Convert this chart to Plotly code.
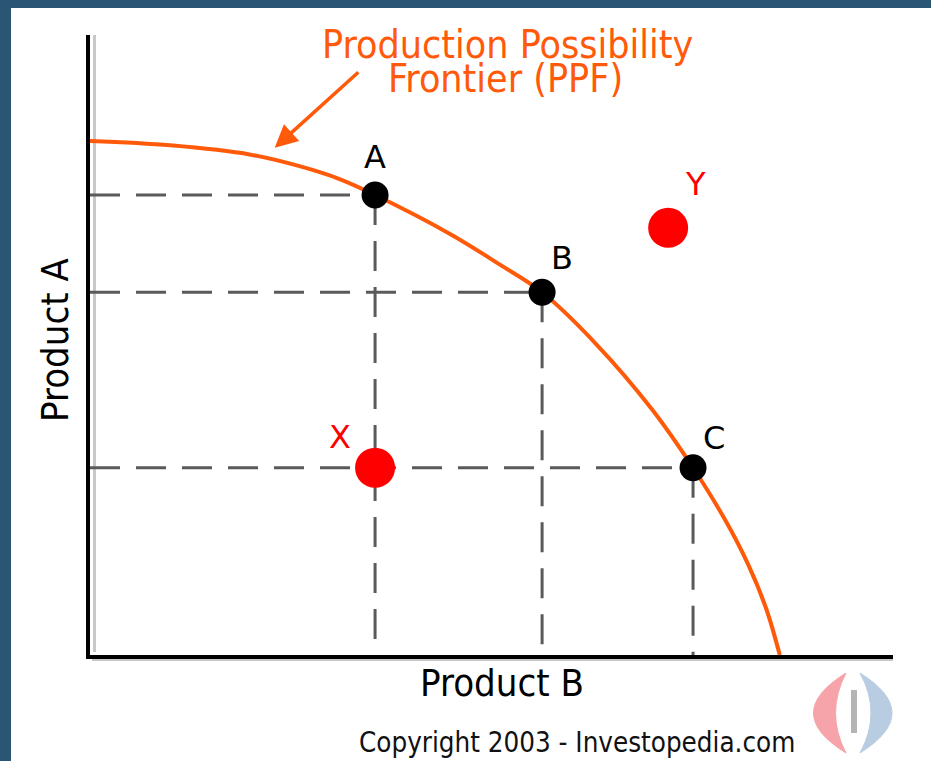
import plotly.graph_objects as go

# --- données (axes sans graduation, échelle 0-10) ---
ppf_x = [0.0, 1.0, 2.0, 2.62, 3.1, 3.55, 4.5, 5.1, 5.63, 6.3, 7.0, 7.51, 7.9, 8.2, 8.42, 8.59]
ppf_y = [8.29, 8.22, 8.07, 7.88, 7.68, 7.42, 6.78, 6.30, 5.85, 5.02, 3.96, 3.02, 2.20, 1.45, 0.75, 0.0]

frontier_names = ["A", "B", "C"]
frontier_x = [3.55, 5.63, 7.51]
frontier_y = [7.42, 5.85, 3.02]

other_names = ["X", "Y"]
other_x = [3.55, 7.20]
other_y = [3.02, 6.89]

ORANGE = "#ff5a0a"
RED = "#ff0000"
DASH = "#5a5a5a"
BG = "#2b5673"
FONT = "DejaVu Sans Condensed, DejaVu Sans, sans-serif"

W, H = 931, 761
L, R, T, B = 90, 38, 35, 106


def px(xp):
    return (xp - L) / (W - L - R)


def py(yp):
    return (H - B - yp) / (H - T - B)


def texte(x, y, txt, size, color="black", angle=0, family=FONT):
    fig.add_annotation(x=px(x), y=py(y), xref="paper", yref="paper", text=txt,
                       showarrow=False, textangle=angle, align="center",
                       xanchor="center", yanchor="middle",
                       font=dict(family=family, size=size, color=color))


fig = go.Figure()

# lignes pointillées vers les axes
for xv, yv in zip(frontier_x, frontier_y):
    fig.add_trace(go.Scatter(x=[0, xv], y=[yv, yv], mode="lines",
                             line=dict(color=DASH, width=3, dash="30px,16px"),
                             hoverinfo="skip"))
    fig.add_trace(go.Scatter(x=[xv, xv], y=[yv, 0], mode="lines",
                             line=dict(color=DASH, width=3, dash="30px,16px"),
                             hoverinfo="skip"))

# frontière
fig.add_trace(go.Scatter(x=ppf_x, y=ppf_y, mode="lines",
                         line=dict(color=ORANGE, width=4, shape="spline", smoothing=1.0),
                         hoverinfo="skip"))

fig.add_trace(go.Scatter(x=frontier_x, y=frontier_y, mode="markers",
                         marker=dict(color="black", size=27),
                         text=frontier_names, hoverinfo="text"))
fig.add_trace(go.Scatter(x=other_x, y=other_y, mode="markers",
                         marker=dict(color=RED, size=40),
                         text=other_names, hoverinfo="text"))

# étiquettes des points
shifts = {"A": (0, 38), "B": (20, 34), "C": (21, 30), "X": (-35, 31), "Y": (27, 44)}
for n, xv, yv in zip(frontier_names + other_names, frontier_x + other_x,
                     frontier_y + other_y):
    dx, dy = shifts[n]
    fig.add_annotation(x=xv, y=yv, text=n, showarrow=False, xshift=dx, yshift=dy,
                       font=dict(family="DejaVu Sans, sans-serif", size=32,
                                 color="black" if n in frontier_names else RED))

# flèche + titre PPF (deux lignes rapprochées)
fig.add_annotation(x=2.30, y=8.18, ax=3.36, ay=9.42, axref="x", ayref="y",
                   text="", showarrow=True, arrowhead=2, arrowsize=1.3,
                   arrowwidth=3.5, arrowcolor=ORANGE)
texte(507, 45, "Production Possibility", 39, ORANGE)
texte(506, 79, "Frontier (PPF)", 39, ORANGE)
texte(502, 683, "Product B", 38)
texte(55, 340, "Product A", 38, angle=-90)
texte(577, 742, "Copyright 2003 - Investopedia.com", 27.5, "#111111")

shapes = [
    # panneau blanc
    dict(type="rect", xref="paper", yref="paper", x0=px(11), x1=px(931),
         y0=py(761), y1=py(8), fillcolor="white", line_width=0, layer="below"),
    # ombres des axes
    dict(type="line", xref="paper", yref="paper", x0=px(94.5), x1=px(94.5),
         y0=py(35), y1=py(652), line=dict(color="#c8c8c8", width=3), layer="below"),
    dict(type="line", xref="paper", yref="paper", x0=px(92), x1=px(893),
         y0=py(659.5), y1=py(659.5), line=dict(color="#c8c8c8", width=3), layer="below"),
    # logo
    dict(type="path", xref="paper", yref="paper",
         path=f"M {px(846)},{py(673)} Q {px(781)},{py(713)} {px(846)},{py(753)} "
              f"Q {px(825)},{py(713)} {px(846)},{py(673)} Z",
         fillcolor="#f7a3aa", line=dict(color="#f7a3aa", width=1)),
    dict(type="path", xref="paper", yref="paper",
         path=f"M {px(860)},{py(673)} Q {px(924)},{py(713)} {px(860)},{py(753)} "
              f"Q {px(882)},{py(713)} {px(860)},{py(673)} Z",
         fillcolor="#b9cde2", line=dict(color="#b9cde2", width=1)),
    dict(type="rect", xref="paper", yref="paper", x0=px(851), x1=px(857),
         y0=py(733), y1=py(690), fillcolor="#b4b4b4", line_width=0),
]

fig.update_layout(
    width=W, height=H,
    margin=dict(l=L, r=R, t=T, b=B, pad=0),
    paper_bgcolor=BG, plot_bgcolor="white",
    showlegend=False, shapes=shapes,
    xaxis=dict(range=[0, 10], showgrid=False, zeroline=False, showticklabels=False,
               ticks="", showline=True, linecolor="black", linewidth=4, fixedrange=True),
    yaxis=dict(range=[0, 10], showgrid=False, zeroline=False, showticklabels=False,
               ticks="", showline=True, linecolor="black", linewidth=4, fixedrange=True),
)

fig.write_html("out.html", config={"displayModeBar": False},
               post_script="document.body.style.margin='0';")
